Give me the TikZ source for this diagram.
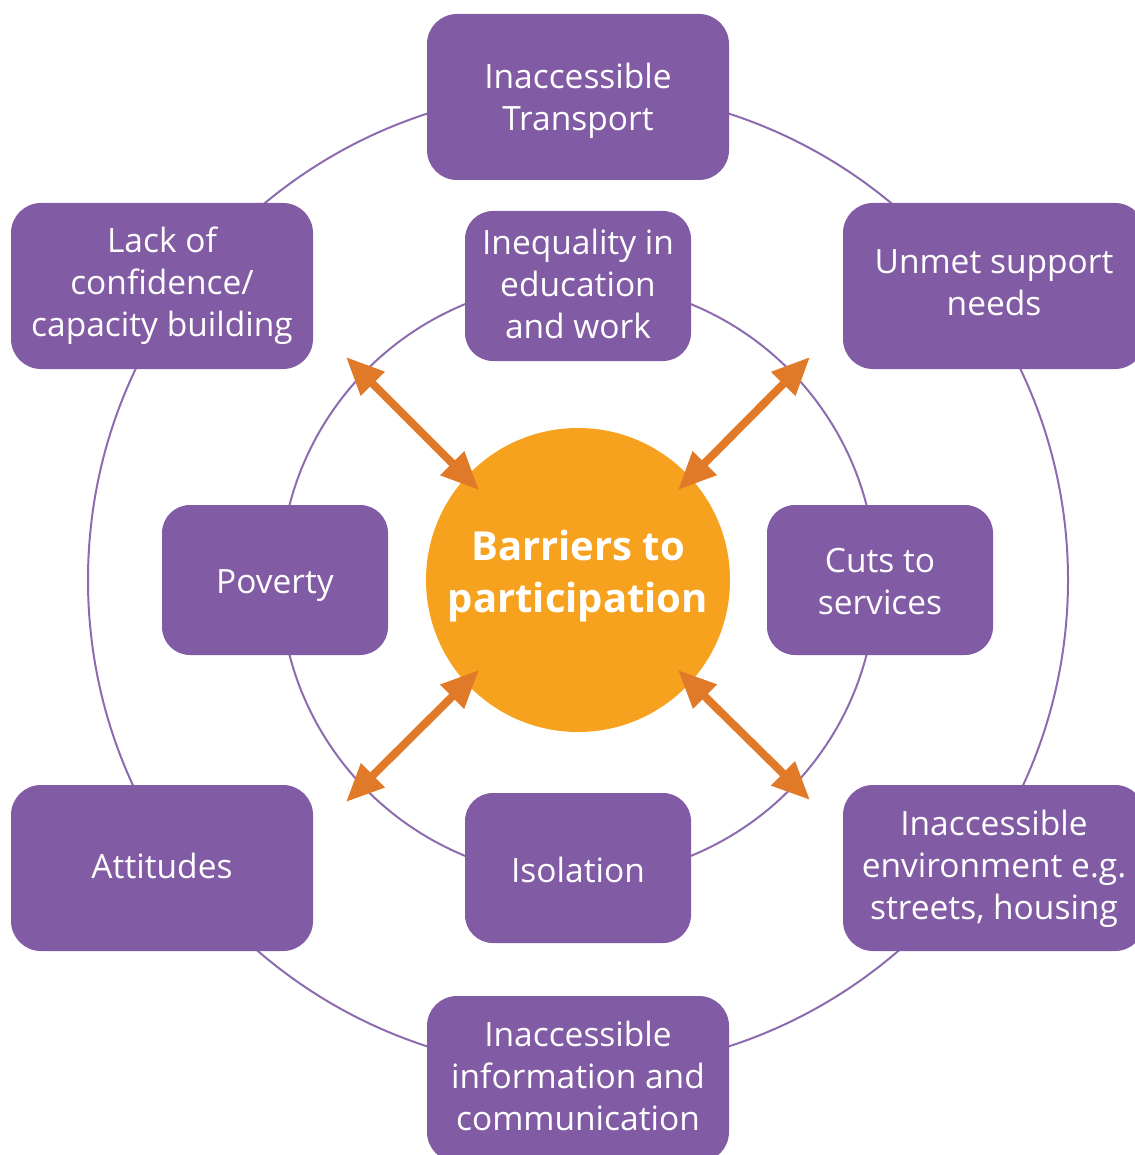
\documentclass[tikz,border=0pt]{standalone}
\usepackage{fontspec}
\setmainfont{Open Sans}
\usetikzlibrary{arrows.meta}
\definecolor{boxpurple}{HTML}{825BA5}
\definecolor{ringpurple}{HTML}{8C6BAE}
\definecolor{centerorange}{HTML}{F6A21E}
\definecolor{arroworange}{HTML}{E07A29}
\tikzset{
  boxtext/.style={text=white, align=center, inner sep=0pt, font=\fontsize{33.5}{42}\selectfont},
  bigbox/.style 2 args={fill=boxpurple, rounded corners=30pt, minimum width=302pt, minimum height=166pt, inner sep=0pt,
    label={[boxtext, yshift=#2]center:{#1}}},
  smallbox/.style 2 args={fill=boxpurple, rounded corners=28pt, minimum width=226pt, minimum height=150pt, inner sep=0pt,
    label={[boxtext, yshift=#2]center:{#1}}},
  ring/.style={draw=ringpurple, line width=2pt},
  barrow/.style={draw=arroworange, line width=8pt, {Triangle[length=38pt,width=32pt]}-{Triangle[length=38pt,width=32pt]}}
}
\begin{document}
\begin{tikzpicture}[x=1pt,y=-1pt]
\useasboundingbox (0,0) rectangle (1134,1155);
\coordinate (c) at (578,580);
\draw[ring] (c) circle[radius=490pt];
\draw[ring] (c) circle[radius=298pt];
\node[circle, fill=centerorange, minimum size=304pt, inner sep=0pt,
  label={[text=white, align=center, inner sep=0pt, yshift=4pt, font=\bfseries\fontsize{40}{52}\selectfont]center:{Barriers to\\participation}}]
  (centre) at (578,580) {};
% outer boxes
\node[bigbox={Inaccessible\\Transport}{-4pt}] (transport) at (578,97) {};
\node[bigbox={Lack of\\confidence/\\capacity building}{0pt}] (confidence) at (162,286) {};
\node[bigbox={Unmet support\\needs}{3pt}] (unmet) at (994,286) {};
\node[bigbox={Attitudes}{2pt}] (attitudes) at (162,868) {};
\node[bigbox={Inaccessible\\environment e.g.\\streets, housing}{-1pt}] (environment) at (994,868) {};
\node[bigbox={Inaccessible\\information and\\communication}{3pt}] (information) at (578,1079) {};
% inner boxes
\node[smallbox={Inequality in\\education\\and work}{2pt}] (inequality) at (578,286) {};
\node[smallbox={Poverty}{-6pt}] (poverty) at (275,580) {};
\node[smallbox={Cuts to\\services}{-2pt}] (cuts) at (880,580) {};
\node[smallbox={Isolation}{-2pt}] (isolation) at (578,868) {};
% arrows
\coordinate (a1o) at (346,357); \coordinate (a1i) at (479,490);
\coordinate (a2o) at (810,357); \coordinate (a2i) at (678,490);
\coordinate (a3o) at (346,802); \coordinate (a3i) at (479,670);
\coordinate (a4o) at (810,800); \coordinate (a4i) at (678,670);
\draw[barrow] (a1o) -- (a1i);
\draw[barrow] (a2o) -- (a2i);
\draw[barrow] (a3o) -- (a3i);
\draw[barrow] (a4o) -- (a4i);
\end{tikzpicture}
\end{document}
